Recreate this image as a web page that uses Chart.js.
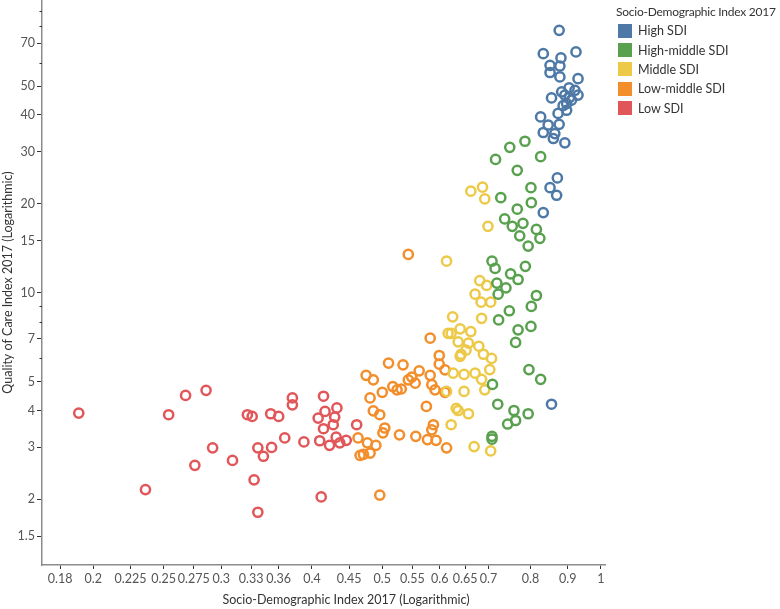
<!DOCTYPE html>
<html>
<head>
<meta charset="utf-8">
<script src="https://cdn.jsdelivr.net/npm/chart.js@4.4.1/dist/chart.umd.min.js"></script>
<style>
  html, body { margin: 0; padding: 0; background: #fff; }
  #wrap { position: relative; width: 780px; height: 609px; font-family: Lato, "DejaVu Sans", sans-serif; overflow: hidden; }
  #chart { position: absolute; left: 0; top: 0; }
  #legend { position: absolute; left: 616px; top: 2px; color: #333; }
  #legend .title { font-size: 12px; height: 19px; line-height: 19px; white-space: nowrap; letter-spacing: -0.25px; }
  #legend .item { display: flex; align-items: center; height: 19.4px; font-size: 12.5px; white-space: nowrap; }
  #legend .box { width: 14px; height: 14px; margin: 0 6px 0 2px; }
  #xtitle { position: absolute; left: 0; width: 692px; top: 592px; text-align: center; font-size: 12.5px; color: #333; }
</style>
</head>
<body>
<div id="wrap">
  <canvas id="chart" width="780" height="609"></canvas>
  <div id="legend"></div>
  <div id="xtitle">Socio-Demographic Index 2017 (Logarithmic)</div>
</div>
<script>
// SDI groups, legend order
const groups = ["High SDI", "High-middle SDI", "Middle SDI", "Low-middle SDI", "Low SDI"];
const colors = ["#4E79A7", "#59A14F", "#EDC948", "#F28E2B", "#E15759"];

// [SDI, Quality of Care Index] per location
const highSdi = [
  [0.876, 77.4], [0.833, 64.5], [0.924, 65.4], [0.881, 62.4], [0.851, 58.9], [0.878, 58.6],
  [0.851, 55.7], [0.878, 53.8], [0.930, 53.1], [0.883, 47.9], [0.855, 45.7], [0.904, 49.4],
  [0.921, 48.5], [0.892, 46.7], [0.930, 46.7], [0.911, 44.9], [0.897, 43.7], [0.873, 40.5],
  [0.897, 41.5], [0.826, 39.4], [0.846, 37.0], [0.876, 37.2], [0.833, 34.9], [0.864, 34.6],
  [0.860, 33.3], [0.892, 32.2], [0.871, 24.5], [0.851, 22.7], [0.869, 21.4], [0.833, 18.7],
  [0.855, 4.2], [0.905, 45.8], [0.887, 43.0]
];
const highMiddleSdi = [
  [0.786, 32.6], [0.749, 31.1], [0.826, 28.9], [0.716, 28.3], [0.767, 26.0], [0.801, 22.7],
  [0.728, 21.0], [0.802, 20.2], [0.767, 19.2], [0.737, 17.8], [0.781, 17.2], [0.755, 16.8],
  [0.815, 16.4], [0.773, 15.6], [0.824, 15.3], [0.794, 14.4], [0.708, 12.8], [0.787, 12.3],
  [0.715, 12.1], [0.751, 11.6], [0.769, 11.1], [0.719, 10.8], [0.740, 10.4], [0.722, 9.9],
  [0.815, 9.8], [0.802, 9.0], [0.748, 8.7], [0.723, 8.1], [0.801, 7.7], [0.769, 7.5],
  [0.763, 6.8], [0.796, 5.5], [0.826, 5.1], [0.709, 4.9], [0.721, 4.2], [0.759, 4.0],
  [0.794, 3.9], [0.763, 3.7], [0.744, 3.6], [0.708, 3.27], [0.708, 3.2]
];
const middleSdi = [
  [0.662, 22.1], [0.687, 22.8], [0.692, 20.8], [0.699, 16.8], [0.613, 12.8], [0.681, 11.0],
  [0.696, 10.6], [0.671, 9.9], [0.684, 9.3], [0.705, 9.3], [0.685, 8.2], [0.625, 8.3],
  [0.622, 7.3], [0.640, 7.56], [0.662, 7.4], [0.616, 7.3], [0.636, 6.83], [0.657, 6.76],
  [0.652, 6.4], [0.679, 6.6], [0.642, 6.2], [0.689, 6.2], [0.707, 6.0], [0.640, 6.1],
  [0.626, 5.35], [0.648, 5.3], [0.671, 5.35], [0.685, 5.1], [0.703, 5.5], [0.613, 4.64],
  [0.648, 4.64], [0.692, 4.7], [0.632, 4.07], [0.636, 4.0], [0.657, 3.9], [0.622, 3.58],
  [0.669, 3.02], [0.705, 2.92]
];
const lowMiddleSdi = [
  [0.543, 13.5], [0.582, 7.03], [0.599, 6.14], [0.599, 5.74], [0.610, 5.49], [0.510, 5.79],
  [0.534, 5.71], [0.562, 5.45], [0.549, 5.19], [0.543, 5.08], [0.555, 4.95], [0.582, 5.26],
  [0.585, 4.89], [0.591, 4.70], [0.517, 4.82], [0.524, 4.70], [0.531, 4.73], [0.500, 4.61],
  [0.610, 4.61], [0.575, 4.13], [0.496, 3.87], [0.504, 3.49], [0.501, 3.36], [0.528, 3.31],
  [0.556, 3.27], [0.588, 3.58], [0.585, 3.44], [0.577, 3.19], [0.593, 3.17], [0.613, 2.99],
  [0.475, 5.26], [0.486, 5.08], [0.481, 4.41], [0.486, 3.99], [0.463, 3.23], [0.477, 3.11],
  [0.490, 3.05], [0.471, 2.84], [0.481, 2.87], [0.466, 2.82], [0.496, 2.07]
];
const lowSdi = [
  [0.191, 3.92], [0.254, 3.87], [0.236, 2.16], [0.268, 4.50], [0.286, 4.68], [0.276, 2.61],
  [0.292, 2.99], [0.311, 2.71], [0.326, 3.87], [0.331, 3.82], [0.351, 3.90], [0.360, 3.82],
  [0.376, 4.41], [0.376, 4.18], [0.367, 3.23], [0.390, 3.13], [0.337, 2.99], [0.352, 3.00],
  [0.343, 2.80], [0.333, 2.33], [0.337, 1.81], [0.415, 4.47], [0.417, 3.97], [0.433, 4.08],
  [0.408, 3.77], [0.430, 3.80], [0.428, 3.58], [0.415, 3.47], [0.461, 3.58], [0.410, 3.16],
  [0.423, 3.05], [0.432, 3.25], [0.437, 3.11], [0.446, 3.17], [0.412, 2.04]
];
const seriesData = [highSdi, highMiddleSdi, middleSdi, lowMiddleSdi, lowSdi];

// axis ticks
const xTicks = [0.18, 0.2, 0.225, 0.25, 0.275, 0.3, 0.33, 0.36, 0.4, 0.45, 0.5, 0.55, 0.6, 0.65, 0.7, 0.8, 0.9, 1];
const yTicks = [1.5, 2, 3, 4, 5, 7, 10, 15, 20, 30, 40, 50, 70];
const yMinorTicks = [6, 8, 9, 60, 80, 90];

const tickFont = { family: "Lato, 'DejaVu Sans', sans-serif", size: 12.5 };

// short unlabeled marks on the y axis
const minorTicks = {
  id: "minorTicks",
  afterDraw(chart) {
    const ctx = chart.ctx;
    const y = chart.scales.y;
    ctx.save();
    ctx.strokeStyle = "#333";
    ctx.lineWidth = 1;
    yMinorTicks.forEach((v) => {
      const py = Math.round(y.getPixelForValue(v)) + 0.5;
      ctx.beginPath();
      ctx.moveTo(y.right - 2.5, py);
      ctx.lineTo(y.right, py);
      ctx.stroke();
    });
    ctx.restore();
  },
};

new Chart(document.getElementById("chart"), {
  type: "scatter",
  data: {
    datasets: groups.map((name, i) => ({
      label: name,
      data: seriesData[i].map((p) => ({ x: p[0], y: p[1] })),
      borderColor: colors[i],
      backgroundColor: "rgba(255,255,255,0)",
      borderWidth: 2.5,
      pointRadius: 4.6,
      pointHoverRadius: 4.6,
    })),
  },
  options: {
    responsive: false,
    animation: false,
    devicePixelRatio: 1,
    layout: { padding: { left: 0, right: 175, top: 0, bottom: 0 }, autoPadding: false },
    plugins: { legend: { display: false }, tooltip: { enabled: false } },
    scales: {
      x: {
        type: "logarithmic",
        min: 0.17,
        max: 1.013,
        afterBuildTicks: (scale) => { scale.ticks = xTicks.map((v) => ({ value: v })); },
        afterFit: (scale) => { scale.height = 44; },
        ticks: {
          autoSkip: false,
          maxRotation: 0,
          padding: 2,
          color: "#555",
          font: tickFont,
          callback: (v) => String(v),
        },
        grid: { drawOnChartArea: false, drawTicks: true, tickLength: 4, tickColor: "#333" },
        border: { color: "#8c8c8c", width: 1.5 },
      },
      y: {
        type: "logarithmic",
        min: 1.2,
        max: 98,
        afterBuildTicks: (scale) => { scale.ticks = yTicks.map((v) => ({ value: v })); },
        afterFit: (scale) => {
          scale.width = 42;
          scale.paddingTop = 0;
          scale.paddingBottom = 0;
        },
        ticks: {
          autoSkip: false,
          padding: 2,
          color: "#555",
          font: tickFont,
          callback: (v) => String(v),
        },
        grid: { drawOnChartArea: false, drawTicks: true, tickLength: 5, tickColor: "#333" },
        border: { color: "#8c8c8c", width: 1.5 },
        title: {
          display: true,
          text: "Quality of Care Index 2017 (Logarithmic)",
          color: "#333",
          font: { family: "Lato, 'DejaVu Sans', sans-serif", size: 12.5 },
          padding: { top: 0, bottom: 0 },
        },
      },
    },
  },
  plugins: [minorTicks],
});

// legend
const legend = document.getElementById("legend");
legend.innerHTML =
  '<div class="title">Socio-Demographic Index 2017</div>' +
  groups
    .map((g, i) => `<div class="item"><span class="box" style="background:${colors[i]}"></span>${g}</div>`)
    .join("");
</script>
</body>
</html>
